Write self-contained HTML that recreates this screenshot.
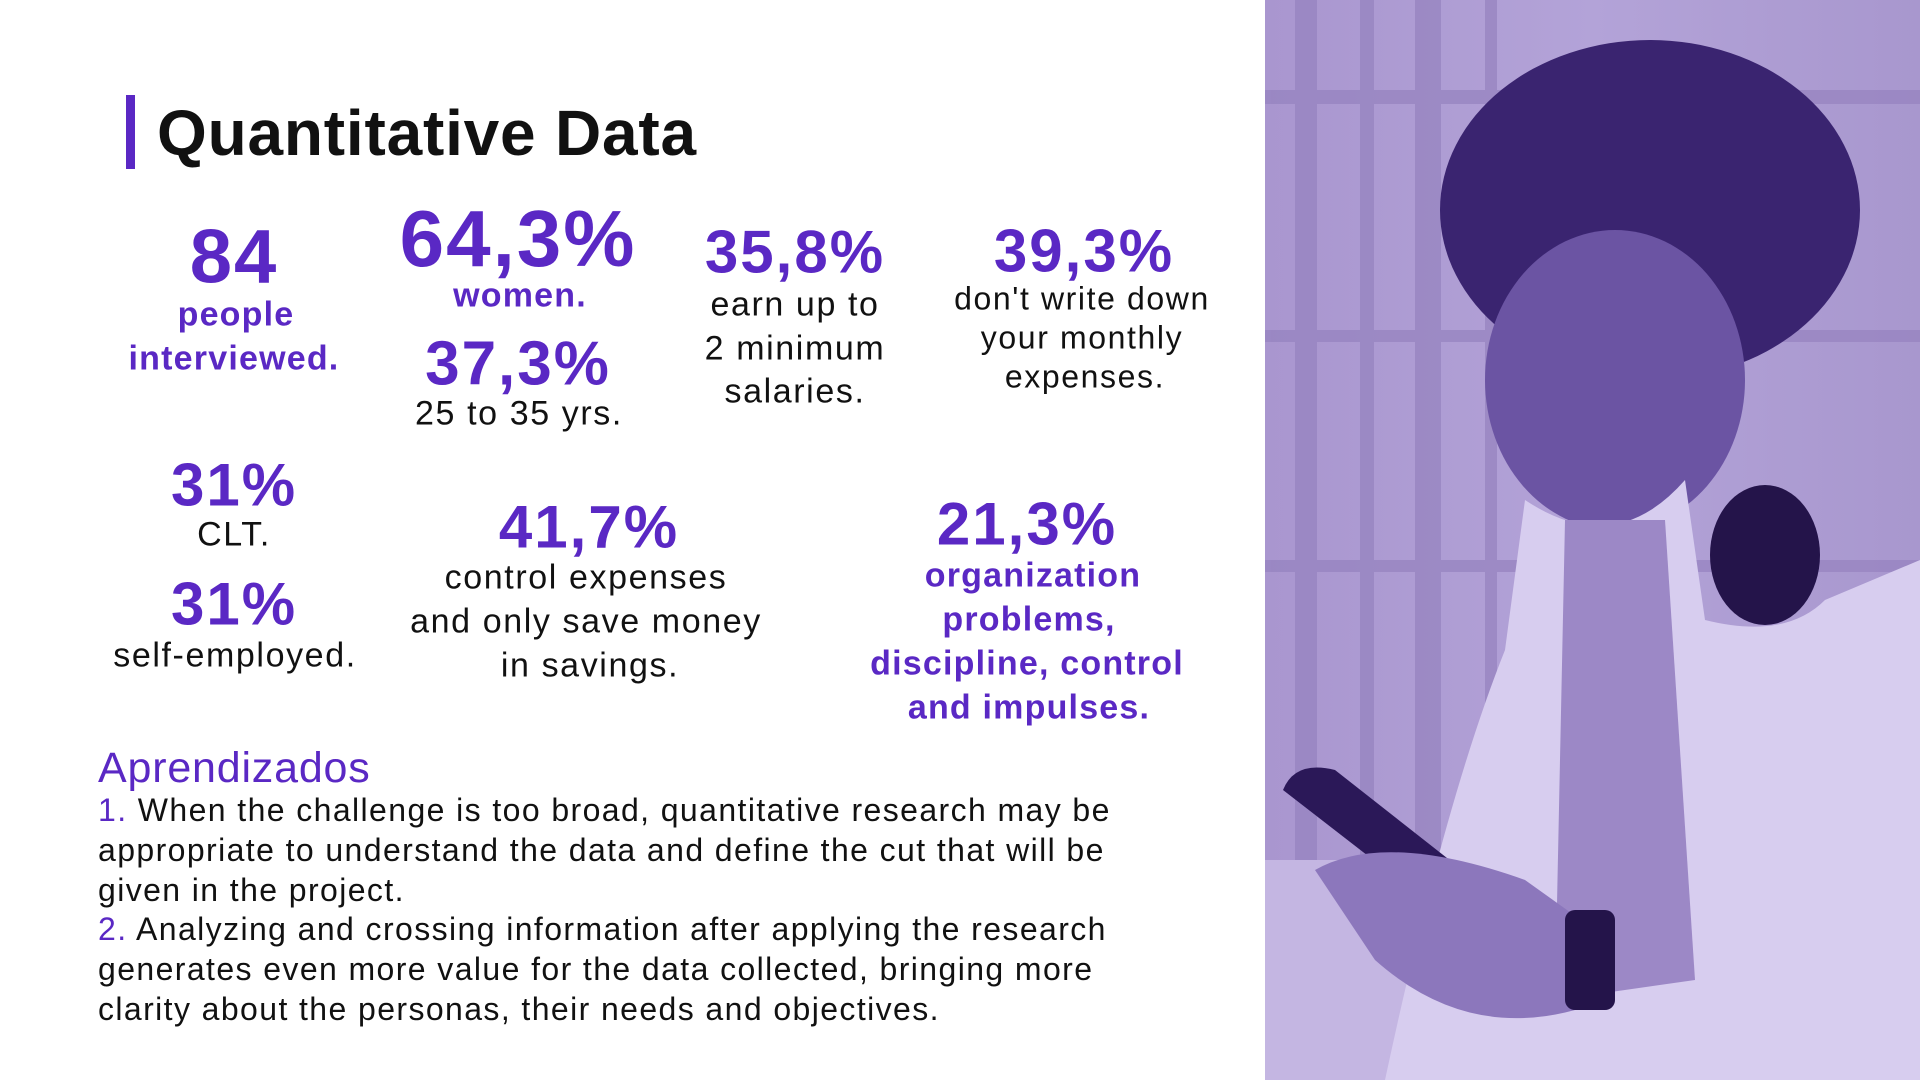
<!DOCTYPE html>
<html><head><meta charset="utf-8"><style>
*{margin:0;padding:0;box-sizing:border-box}
body{width:1920px;height:1080px;overflow:hidden;background:#fff;position:relative;font-family:"Liberation Sans",sans-serif}
.t{position:absolute;text-align:center;white-space:nowrap;transform:translate(-50%,-50%)}
.n{color:#5a28c4;font-weight:700;letter-spacing:2px}
.p{color:#5a28c4;font-weight:700;font-size:34px;letter-spacing:1.2px}
.b{color:#111;font-size:34px;letter-spacing:1.6px}
.para{position:absolute;left:98px;top:791px;white-space:nowrap;font-size:32px;letter-spacing:1.4px;line-height:39.8px;color:#111}
.para span{color:#5a28c4}
</style></head><body>
<div style="position:absolute;left:126px;top:95px;width:9px;height:74px;background:#5a28c4"></div>
<div style="position:absolute;left:157px;top:96px;font-size:64px;font-weight:700;color:#111;line-height:74px;letter-spacing:0.8px">Quantitative Data</div>

<div class="t n" style="left:234px;top:257px;font-size:76px">84</div>
<div class="t p" style="left:236px;top:315px">people</div>
<div class="t p" style="left:234px;top:359px">interviewed.</div>

<div class="t n" style="left:518px;top:239px;font-size:80px">64,3%</div>
<div class="t p" style="left:520px;top:296px">women.</div>
<div class="t n" style="left:518px;top:364px;font-size:62px">37,3%</div>
<div class="t b" style="left:519px;top:414px">25 to 35 yrs.</div>

<div class="t n" style="left:795px;top:252px;font-size:60px">35,8%</div>
<div class="t b" style="left:795px;top:305px">earn up to</div>
<div class="t b" style="left:795px;top:349px">2 minimum</div>
<div class="t b" style="left:795px;top:392px">salaries.</div>

<div class="t n" style="left:1084px;top:251px;font-size:60px">39,3%</div>
<div class="t b" style="left:1082px;top:299px;font-size:32px">don't write down</div>
<div class="t b" style="left:1082px;top:338px;font-size:32px">your monthly</div>
<div class="t b" style="left:1085px;top:377px;font-size:32px">expenses.</div>

<div class="t n" style="left:234px;top:485px;font-size:60px">31%</div>
<div class="t b" style="left:234px;top:535px">CLT.</div>
<div class="t n" style="left:234px;top:604px;font-size:60px">31%</div>
<div class="t b" style="left:235px;top:656px">self-employed.</div>

<div class="t n" style="left:589px;top:527px;font-size:60px">41,7%</div>
<div class="t b" style="left:586px;top:578px">control expenses</div>
<div class="t b" style="left:586px;top:622px">and only save money</div>
<div class="t b" style="left:590px;top:666px">in savings.</div>

<div class="t n" style="left:1027px;top:524px;font-size:60px">21,3%</div>
<div class="t p" style="left:1033px;top:576px">organization</div>
<div class="t p" style="left:1029px;top:620px">problems,</div>
<div class="t p" style="left:1027px;top:664px">discipline, control</div>
<div class="t p" style="left:1029px;top:708px">and impulses.</div>

<div style="position:absolute;left:98px;top:742px;font-size:43px;color:#5a28c4;line-height:52px;letter-spacing:0.8px">Aprendizados</div>
<div class="para"><span>1.</span> When the challenge is too broad, quantitative research may be<br>appropriate to understand the data and define the cut that will be<br>given in the project.<br><span>2.</span> Analyzing and crossing information after applying the research<br>generates even more value for the data collected, bringing more<br>clarity about the personas, their needs and objectives.</div>

<svg style="position:absolute;left:1265px;top:0" width="655" height="1080" viewBox="0 0 655 1080">
<defs><linearGradient id="bg" x1="0" x2="1"><stop offset="0" stop-color="#a996cf"/><stop offset="0.5" stop-color="#b3a3d8"/><stop offset="1" stop-color="#a897ce"/></linearGradient></defs>
<rect width="655" height="1080" fill="url(#bg)"/>
<g fill="#9582bf" opacity="0.7"><rect x="30" y="0" width="22" height="1080"/><rect x="95" y="0" width="14" height="1080"/><rect x="150" y="0" width="26" height="1080"/><rect x="220" y="0" width="12" height="1080"/><rect x="0" y="90" width="655" height="14"/><rect x="0" y="330" width="655" height="12"/><rect x="0" y="560" width="655" height="12"/></g>
<rect x="0" y="860" width="655" height="220" fill="#c4b6e2"/>
<ellipse cx="385" cy="210" rx="210" ry="170" fill="#3a2470"/>
<ellipse cx="350" cy="380" rx="130" ry="150" fill="#6b54a3"/>
<path d="M260 500 Q350 560 420 480 L440 620 Q520 640 560 600 L655 560 L655 1080 L120 1080 Q180 800 240 650 Z" fill="#d7cdef"/>
<path d="M300 520 L400 520 L430 980 L290 1000 Z" fill="#9c88c6"/>
<ellipse cx="500" cy="555" rx="55" ry="70" fill="#24144a"/>
<path d="M18 790 Q30 760 70 770 L210 880 Q220 900 200 905 L160 900 Z" fill="#2b1858"/>
<path d="M50 870 Q120 830 260 880 L330 930 L310 1010 Q200 1040 110 960 Z" fill="#8c77bc"/>
<rect x="300" y="910" width="50" height="100" rx="10" fill="#24144a"/>
</svg>
</body></html>
